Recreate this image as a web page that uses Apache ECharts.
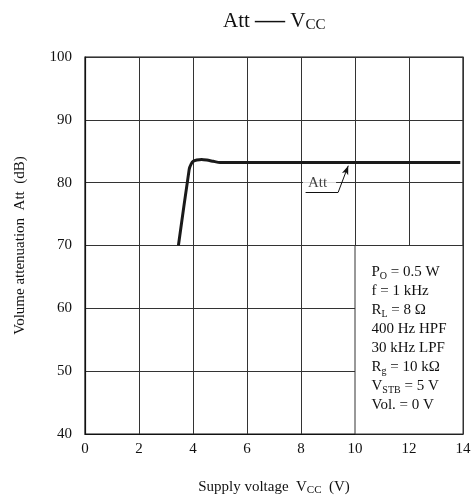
<!DOCTYPE html>
<html>
<head>
<meta charset="utf-8">
<script src="https://cdn.jsdelivr.net/npm/echarts@6/dist/echarts.min.js"></script>
<style>
html,body{margin:0;padding:0;background:#fff;}
#chart{width:476px;height:498px;}
</style>
</head>
<body>
<div id="chart"></div>
<script>
// ---- data ----
const vcc = [3.46, 3.86, 3.93, 4.01, 4.14, 4.32, 4.51, 4.75, 5.0, 13.9];
const att = [70, 82.15, 82.95, 83.4, 83.6, 83.7, 83.6, 83.4, 83.2, 83.2];
const xTicks = [0, 2, 4, 6, 8, 10, 12, 14];
const yTicks = [40, 50, 60, 70, 80, 90, 100];
const conditionLines = [
  'P{s|O} = 0.5 W',
  'f = 1 kHz',
  'R{s|L} = 8 Ω',
  '400 Hz HPF',
  '30 kHz LPF',
  'R{s|g} = 10 kΩ',
  'V{s|STB} = 5 V',
  'Vol. = 0 V'
];
// condition box extent (data coords): x from 10 to 14, y from 40 to 70
const boxX = [10, 14];
const boxY = [40, 70];
// "Att" callout: label point, underline, arrow
const attLabelPoint = [8.685, 80];
const attUnderline = [[8.17, 78.5], [9.38, 78.5]];
const attArrow = [[9.38, 78.5], [9.75, 82.7]];

const FONT = '"Liberation Serif", "DejaVu Serif", serif';
const INK = '#111';

const chart = echarts.init(document.getElementById('chart'), null, {renderer: 'canvas'});

const option = {
  backgroundColor: '#fff',
  animation: false,
  title: {
    text: '{m|Att }{d|—}{m| V}{s|CC}',
    left: 218,
    top: 3,
    textStyle: {
      fontFamily: FONT,
      fontWeight: 'normal',
      rich: {
        m: {fontFamily: FONT, fontSize: 21, fontWeight: 'normal', color: INK, lineHeight: 26},
        d: {fontFamily: FONT, fontSize: 30, fontWeight: 'normal', color: INK, lineHeight: 26},
        s: {fontFamily: FONT, fontSize: 15, fontWeight: 'normal', color: INK, lineHeight: 26, padding: [9, 0, 0, 0]}
      }
    }
  },
  grid: {
    left: 85, right: 13, top: 57, bottom: 64,
    containLabel: false,
    outerBoundsMode: 'none',
    show: true,
    borderColor: INK,
    borderWidth: 1.2,
    backgroundColor: 'transparent'
  },
  xAxis: {
    type: 'value',
    min: xTicks[0], max: xTicks[xTicks.length - 1], interval: 2,
    name: '{m|Supply voltage  V}{s|CC}{m|  (V)}',
    nameLocation: 'middle',
    nameGap: 44,
    nameMoveOverlap: false,
    nameTextStyle: {
      rich: {
        m: {fontFamily: FONT, fontSize: 15, color: INK, lineHeight: 18},
        s: {fontFamily: FONT, fontSize: 11, color: INK, lineHeight: 18, padding: [7, 0, 0, 0]}
      }
    },
    axisLine: {show: true, lineStyle: {color: INK, width: 1.2}},
    axisTick: {show: false},
    axisLabel: {fontFamily: FONT, fontSize: 15, color: INK, margin: 8},
    splitLine: {show: true, lineStyle: {color: '#333', width: 1}}
  },
  yAxis: {
    type: 'value',
    min: yTicks[0], max: yTicks[yTicks.length - 1], interval: 10,
    name: 'Volume attenuation  Att  (dB)',
    nameLocation: 'middle',
    nameGap: 57,
    nameRotate: 90,
    nameMoveOverlap: false,
    nameTextStyle: {fontFamily: FONT, fontSize: 15, color: INK},
    axisLine: {show: true, lineStyle: {color: INK, width: 1.2}},
    axisTick: {show: false},
    axisLabel: {fontFamily: FONT, fontSize: 15, color: INK, margin: 13},
    splitLine: {show: true, lineStyle: {color: '#333', width: 1}}
  },
  series: [
    {
      type: 'line',
      name: 'box',
      data: [],
      z: 1,
      silent: true,
      markArea: {
        silent: true,
        itemStyle: {color: '#fff', borderColor: '#333', borderWidth: 1},
        label: {
          show: true,
          position: 'insideTopLeft',
          distance: 0,
          offset: [17, 18],
          formatter: conditionLines.join('\n'),
          rich: {
            s: {fontFamily: FONT, fontSize: 10, color: INK, lineHeight: 19, padding: [7, 0, 0, 0]}
          },
          fontFamily: FONT,
          fontSize: 15,
          lineHeight: 19,
          color: INK
        },
        data: [[{coord: [boxX[0], boxY[1]]}, {coord: [boxX[1], boxY[0]]}]]
      }
    },
    {
      type: 'line',
      name: 'Att',
      data: vcc.map((v, i) => [v, att[i]]),
      showSymbol: false,
      symbol: 'none',
      smooth: 0.2,
      z: 5,
      lineStyle: {color: '#1a1a1a', width: 3},
      silent: true
    },
    {
      type: 'scatter',
      name: 'label',
      data: [attLabelPoint],
      symbolSize: 0,
      z: 4,
      silent: true,
      label: {
        show: true,
        position: 'inside',
        formatter: 'Att',
        fontFamily: FONT,
        fontSize: 15,
        lineHeight: 15,
        color: INK,
        backgroundColor: '#fff',
        padding: [0, 9, 0, 5]
      },
      markLine: {
        silent: true,
        animation: false,
        symbol: ['none', 'none'],
        label: {show: false},
        lineStyle: {color: INK, width: 1, type: 'solid'},
        data: [
          [{coord: attUnderline[0], symbol: 'none'}, {coord: attUnderline[1], symbol: 'none'}],
          [{coord: attArrow[0], symbol: 'none'}, {coord: attArrow[1], symbol: 'arrow', symbolSize: [5, 9]}]
        ]
      }
    }
  ]
};
chart.setOption(option);
</script>
</body>
</html>
